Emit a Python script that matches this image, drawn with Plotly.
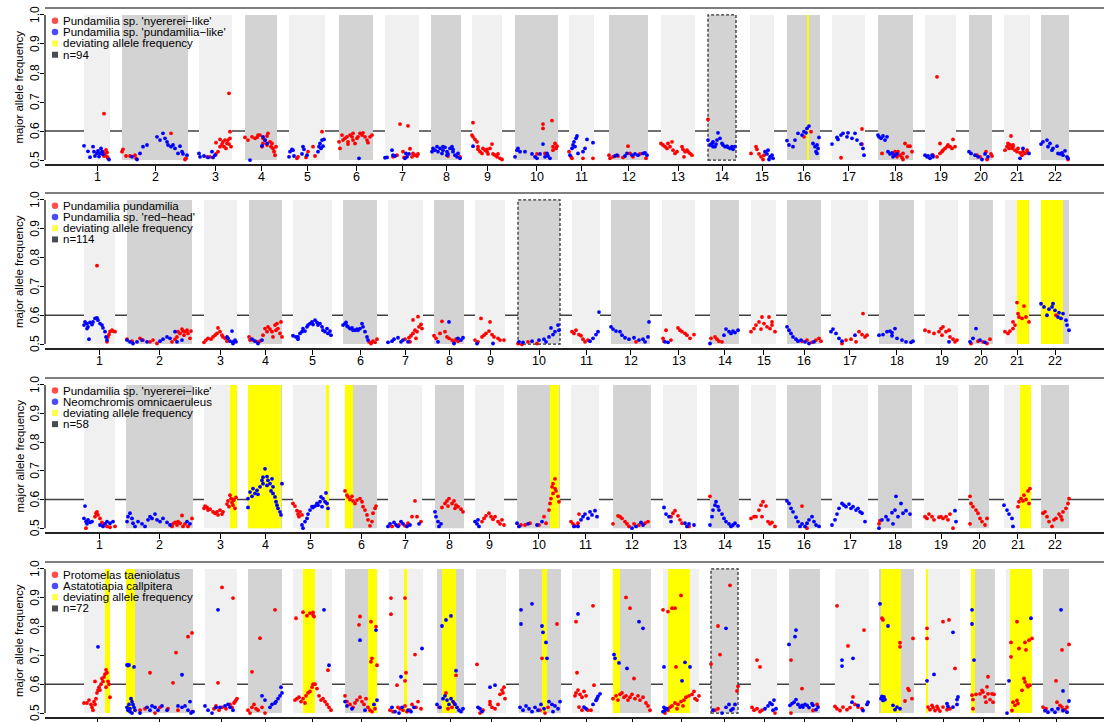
import plotly.graph_objects as go

CHROMOSOMES = [str(i) for i in range(1, 23)]
Y_TICKS = [0.5, 0.6, 0.7, 0.8, 0.9, 1.0]
Y_TICK_TEXT = ["0.5", "0.6", "0.7", "0.8", "0.9", "1.0"]
THRESHOLD = 0.6
Y_TITLE = "major allele frequency"

# ---------------- Panel 1 ----------------
P1_CHR = [(84, 110), (122, 188), (199, 232), (245, 277), (289, 325), (339, 373), (385, 419), (431, 461),
          (472, 502), (515, 558), (569, 594), (609, 648), (661, 695), (708, 736), (750, 774), (787, 820),
          (832, 865), (878, 913), (925, 956), (969, 992), (1004, 1030), (1041, 1069)]
P1_DEV = [(807, 809)]
P1_BOX = [14]
P1_LEGEND = ["Pundamilia sp. 'nyererei\u2212like'", "Pundamilia sp. 'pundamilia\u2212like'",
             "deviating allele frequency", "n=94"]
P1_RED = [(104,.66),(102,.523),(103,.529),(105,.521),(106,.535),(107,.526),(107,.512),(108,.506),(104,.514),(103,.521),
 (122,.529),(123,.537),(126,.514),(130,.514),(135,.517),(136,.506),(171,.592),(185,.502),(186,.506),
 (207,.511),(210,.511),(216,.521),(218,.529),(220,.546),(222,.555),(223,.563),(225,.569),(227,.557),(228,.569),(230,.575),
 (231,.546),(229,.555),(224,.546),(226,.54),(229,.73),(230,.598),(220,.571),(216,.56),
 (245,.578),(248,.569),(252,.58),(255,.575),(257,.578),(260,.586),(263,.575),(265,.569),(267,.583),(268,.592),(270,.563),
 (272,.557),(273,.54),(274,.529),(275,.517),(276,.546),(271,.546),(267,.552),(263,.557),(262,.546),(258,.586),
 (297,.506),(298,.511),(306,.509),(308,.529),(313,.546),(315,.514),(322,.598),
 (339,.563),(340,.54),(342,.586),(343,.569),(345,.575),(347,.58),(348,.563),(350,.586),(352,.58),(353,.569),(355,.557),
 (357,.575),(358,.58),(360,.592),(362,.586),(363,.594),(365,.58),(367,.569),(368,.56),(370,.58),(372,.586),(353,.592),(348,.555),
 (393,.511),(397,.517),(400,.624),(403,.529),(408,.618),(410,.539),(413,.523),(415,.517),(417,.514),(418,.521),(404,.509),(412,.511),
 (448,.514),(460,.511),
 (473,.629),(472,.586),(473,.58),(475,.571),(477,.563),(478,.546),(478,.537),(480,.529),(482,.523),(483,.54),(485,.534),
 (487,.529),(488,.521),(490,.54),(492,.555),(493,.521),(495,.517),(497,.511),(498,.521),(500,.506),(502,.502),(487,.537),
 (543,.624),(543,.609),(552,.636),(545,.523),(553,.546),(555,.557),(557,.548),(556,.54),(553,.534),(537,.521),
 (569,.529),(571,.511),(572,.506),(583,.506),(593,.506),
 (609,.517),(610,.506),(613,.511),(618,.514),(623,.509),(628,.548),(630,.523),(633,.511),(640,.521),(646,.506),
 (661,.557),(663,.552),(665,.546),(667,.54),(668,.557),(670,.546),(672,.563),(673,.534),(675,.523),(677,.529),(682,.546),
 (683,.537),(685,.529),(684,.511),(687,.534),(688,.529),(690,.523),(692,.517),
 (708,.64),
 (751,.523),(756,.546),(757,.537),(759,.521),(761,.511),(763,.502),(764,.517),
 (804,.58),(811,.598),
 (862,.607),(841,.508),(862,.555),
 (882,.523),(893,.521),(895,.529),(897,.511),(898,.529),(900,.517),(902,.509),(903,.523),(905,.557),(907,.511),(908,.548),
 (910,.548),(912,.529),(903,.502),
 (937,.787),(933,.517),(937,.511),(940,.523),(942,.529),(943,.534),(945,.54),(947,.546),(948,.552),(950,.546),(952,.54),
 (953,.571),(955,.546),(940,.557),
 (977,.517),(980,.511),(986,.529),(991,.521),(992,.514),(987,.502),
 (1005,.534),(1007,.546),(1008,.557),(1010,.552),(1011,.583),(1012,.54),(1013,.546),(1015,.534),(1017,.529),(1018,.54),
 (1020,.525),(1022,.517),(1023,.529),(1025,.523),(1027,.534),(1028,.525),(1009,.54),(1013,.552),
 (1068,.502)]
P1_BLUE = [(84,.549),(90,.51),(88,.53),(93,.546),(94,.529),(97,.523),(98,.532),(100,.523),(101,.54),(102,.529),(103,.52),
 (99,.512),(95,.514),(109,.502),
 (132,.511),(137,.502),(140,.523),(143,.546),(147,.552),(157,.58),(160,.569),(163,.592),(165,.575),(167,.563),(168,.552),
 (171,.546),(173,.552),(175,.54),(178,.523),(180,.548),(182,.529),(183,.521),(187,.517),
 (199,.523),(200,.511),(204,.514),(208,.509),(213,.509),(212,.529),(215,.517),
 (250,.5),(263,.58),(265,.569),(267,.557),(262,.549),
 (289,.511),(290,.529),(292,.537),(293,.534),(294,.514),(302,.521),(303,.546),(304,.537),(307,.517),(318,.529),(319,.546),
 (320,.557),(322,.569),(323,.548),(324,.571),(321,.54),
 (359,.506),
 (385,.508),(387,.509),(392,.534),(393,.517),(405,.506),(406,.523),(407,.511),(409,.521),(395,.514),
 (432,.529),(433,.54),(435,.534),(437,.546),(438,.529),(440,.54),(442,.523),(443,.534),(445,.544),(447,.529),(448,.521),
 (450,.54),(452,.546),(453,.529),(455,.517),(457,.511),(458,.523),(460,.506),(453,.537),(447,.517),(443,.546),
 (473,.548),
 (515,.511),(517,.534),(518,.54),(520,.529),(525,.529),(532,.521),(535,.511),(537,.506),(540,.521),(543,.555),(545,.511),
 (547,.523),(548,.514),(550,.506),
 (570,.517),(572,.54),(573,.552),(574,.563),(576,.575),(577,.583),(575,.546),(578,.523),(583,.529),(585,.54),(587,.571),(593,.56),
 (615,.514),(617,.517),(625,.514),(627,.523),(632,.517),(635,.521),(638,.517),(643,.523),(645,.525),(647,.517),
 (708,.569),(710,.552),(712,.557),(713,.563),(715,.546),(717,.569),(718,.594),(720,.575),(722,.557),(723,.552),(725,.546),
 (727,.548),(728,.544),(730,.54),(732,.546),(733,.537),(735,.546),(713,.546),(716,.555),
 (765,.529),(767,.521),(768,.534),(770,.511),(772,.517),(773,.506),(769,.502),
 (787,.567),(789,.552),(793,.546),(795,.569),(798,.592),(802,.586),(804,.598),(806,.594),(807,.609),(809,.617),(813,.557),
 (815,.546),(817,.552),(818,.54),(817,.523),(819,.578),(816,.529),
 (832,.555),(837,.578),(838,.571),(841,.586),(843,.592),(847,.58),(848,.594),(852,.575),(855,.592),(857,.569),(861,.555),
 (863,.54),(864,.517),
 (878,.586),(879,.58),(881,.575),(883,.583),(885,.569),(887,.58),(888,.529),(890,.521),(892,.525),(893,.511),(895,.517),(897,.521),
 (925,.517),(927,.511),(928,.514),(930,.506),(932,.517),(933,.511),
 (969,.529),(971,.523),(975,.517),(978,.511),(982,.502),(985,.521),(988,.511),
 (1020,.506),(1023,.54),(1029,.523),
 (1041,.555),(1043,.563),(1047,.569),(1048,.546),(1050,.557),(1052,.534),(1053,.54),(1057,.548),(1058,.523),(1060,.521),
 (1062,.525),(1063,.517),(1065,.532),(1067,.511),(1068,.506)]

# ---------------- Panel 2 ----------------
P2_CHR = [(84, 115), (127, 192), (204, 237), (249, 282), (293, 332), (343, 377), (388, 423), (434, 464),
          (475, 505), (518, 560), (572, 600), (611, 650), (662, 695), (710, 739), (751, 776), (787, 821),
          (831, 868), (879, 914), (925, 958), (969, 993), (1005, 1029), (1041, 1069)]
P2_DEV = [(1017, 1029), (1041, 1063)]
P2_BOX = [10]
P2_LEGEND = ["Pundamilia pundamilia", "Pundamilia sp. 'red\u2212head'", "deviating allele frequency", "n=114"]
P2_RED = [(97,.772),(107,.508),(108,.525),(110,.543),(112,.548),(113,.545),(115,.543),(109,.533),
 (127,.517),(132,.51),(140,.52),(143,.514),(150,.508),(153,.514),(157,.502),(172,.508),(175,.517),(177,.525),(178,.543),
 (180,.537),(182,.552),(183,.545),(185,.543),(187,.548),(188,.537),(190,.52),(191,.545),(184,.531),
 (204,.506),(206,.514),(208,.52),(211,.517),(213,.525),(215,.531),(217,.537),(218,.556),(220,.543),(222,.531),(223,.525),
 (225,.52),(227,.51),
 (249,.525),(250,.514),(253,.514),(257,.508),(260,.51),(263,.531),(265,.554),(267,.543),(268,.56),(270,.552),(272,.543),
 (273,.525),(275,.566),(277,.571),(278,.554),(280,.537),(281,.577),(282,.525),(276,.548),
 (369,.508),(371,.502),(373,.51),(375,.506),(377,.517),
 (405,.517),(409,.522),(411,.529),(413,.537),(415,.548),(417,.543),(419,.56),(421,.568),(422,.554),(418,.595),(413,.584),
 (416,.52),(410,.508),
 (434,.529),(436,.52),(442,.579),(445,.543),(447,.525),(449,.52),(452,.514),(454,.508),(456,.517),(458,.51),(440,.537),
 (475,.514),(478,.508),(481,.589),(482,.525),(484,.531),(486,.537),(489,.545),(490,.577),(492,.533),(494,.525),(498,.52),
 (500,.514),(504,.514),
 (518,.502),(522,.499),(528,.508),(537,.502),
 (572,.543),(574,.537),(576,.548),(579,.533),(581,.529),(583,.517),(585,.508),(588,.514),
 (636,.508),
 (663,.52),(664,.51),(666,.548),(671,.514),(678,.556),(680,.548),(682,.543),(685,.537),(687,.531),(690,.52),(694,.533),
 (711,.52),(715,.525),(717,.517),(719,.51),(722,.508),
 (751,.543),(754,.554),(756,.566),(759,.577),(762,.594),(764,.571),(767,.56),(769,.594),(770,.554),(772,.566),(775,.543),
 (761,.552),(772,.577),
 (802,.51),(807,.514),(812,.506),(816,.514),(819,.52),(821,.51),
 (842,.502),(846,.514),(851,.517),(856,.508),(859,.543),(862,.533),(865,.525),(867,.531),(863,.606),
 (925,.548),(929,.543),(934,.537),(939,.543),(941,.554),(943,.56),(946,.543),(949,.548),(950,.525),(953,.517),(955,.508),
 (957,.514),(942,.531),
 (971,.502),(978,.51),(983,.508),(987,.502),(990,.517),
 (1005,.543),(1008,.537),(1010,.545),(1013,.577),(1015,.566),(1017,.644),(1019,.594),(1022,.589),(1024,.632),(1026,.594),
 (1029,.577),(1013,.554),(1018,.606),
 (1056,.6)]
P2_BLUE = [(84,.566),(85,.577),(87,.571),(88,.56),(90,.575),(92,.568),(93,.577),(95,.589),(97,.591),(98,.583),(100,.571),
 (102,.566),(103,.556),(105,.543),(106,.525),(107,.514),(89,.517),(87,.554),
 (127,.514),(130,.508),(133,.502),(137,.508),(142,.514),(147,.508),(160,.51),(163,.517),(167,.525),(170,.52),(175,.543),
 (177,.508),(182,.514),
 (227,.525),(228,.52),(230,.51),(232,.545),(233,.508),(235,.514),(236,.508),(233,.502),
 (252,.517),(255,.51),(258,.502),(262,.514),
 (293,.529),(296,.525),(298,.517),(300,.537),(302,.543),(303,.554),(305,.545),(307,.56),(308,.566),(310,.571),(312,.577),
 (313,.568),(315,.583),(317,.575),(318,.566),(320,.571),(322,.56),(323,.548),(325,.543),(327,.554),(328,.537),(330,.545),
 (331,.531),(298,.525),
 (343,.566),(345,.571),(347,.563),(348,.56),(350,.554),(352,.556),(353,.548),(355,.548),(357,.552),(358,.548),(360,.554),
 (362,.571),(363,.56),(365,.543),(367,.525),(368,.514),(346,.575),
 (388,.506),(392,.51),(394,.517),(398,.522),(401,.508),(403,.514),(408,.508),
 (438,.508),(449,.577),(454,.502),(458,.52),(461,.514),(463,.522),
 (477,.502),(493,.502),
 (519,.508),(523,.506),(532,.51),(539,.514),(544,.517),(549,.525),(551,.556),(553,.533),(555,.543),(558,.566),(559,.548),(546,.508),
 (590,.51),(593,.52),(596,.533),(598,.543),(599,.611),
 (611,.56),(613,.552),(616,.545),(620,.543),(622,.531),(625,.522),(629,.517),(634,.522),(639,.514),(643,.517),(645,.508),
 (648,.525),(649,.577),
 (665,.508),(668,.506),
 (710,.502),(724,.531),(726,.552),(729,.543),(731,.537),(733,.545),(735,.54),(738,.548),
 (787,.56),(789,.548),(791,.537),(793,.525),(796,.517),(798,.51),(801,.514),(805,.508),(809,.502),(814,.508),
 (831,.543),(833,.552),(836,.537),(839,.52),(842,.51),(855,.531),
 (879,.531),(883,.533),(887,.543),(890,.545),(892,.54),(895,.554),(897,.52),(902,.514),(906,.508),(911,.506),(913,.51),(892,.529),
 (949,.508),
 (970,.508),(973,.52),(976,.554),(980,.514),(985,.506),
 (1041,.64),(1044,.629),(1047,.6),(1049,.621),(1052,.629),(1053,.64),(1055,.617),(1058,.594),(1061,.589),(1063,.606),
 (1066,.583),(1067,.566),(1069,.548),(1059,.609)]

# ---------------- Panel 3 ----------------
P3_CHR = [(84, 115), (126, 193), (204, 237), (248, 282), (293, 328), (345, 377), (388, 422), (435, 464),
          (475, 504), (517, 560), (571, 599), (613, 651), (663, 697), (710, 739), (751, 776), (787, 821),
          (832, 868), (878, 912), (924, 958), (969, 989), (1004, 1031), (1041, 1069)]
P3_DEV = [(230, 237), (248, 281), (326, 329), (345, 353), (550, 559), (1020, 1031)]
P3_BOX = []
P3_LEGEND = ["Pundamilia sp. 'nyererei\u2212like'", "Neomchromis omnicaeruleus", "deviating allele frequency", "n=58"]
P3_RED = [(95,.54),(96,.552),(97,.557),(98,.546),(100,.534),(102,.52),(103,.515),(107,.506),(110,.503),(115,.506),(86,.5),
 (172,.506),(173,.515),(175,.52),(177,.511),(178,.523),(180,.517),(182,.544),(183,.506),(185,.515),(188,.506),(192,.534),
 (204,.569),(205,.577),(207,.572),(208,.563),(210,.566),(213,.557),(215,.552),(217,.557),(218,.546),(220,.563),(222,.549),
 (223,.557),(227,.584),(228,.595),(230,.615),(231,.603),(232,.589),(233,.58),(234,.598),(235,.569),(236,.607),(229,.575),(233,.6),
 (293,.586),(295,.577),(297,.561),(298,.549),(300,.557),(302,.546),(299,.54),
 (345,.63),(347,.615),(348,.609),(350,.6),(352,.611),(353,.595),(355,.586),(357,.598),(360,.603),(362,.592),(363,.575),
 (365,.563),(367,.546),(368,.529),(370,.508),(372,.523),(373,.552),(375,.569),(376,.577),
 (392,.506),(399,.511),(405,.508),(412,.54),(415,.595),(417,.54),(421,.523),(408,.517),
 (442,.572),(445,.586),(447,.595),(449,.603),(452,.586),(454,.595),(456,.58),(458,.575),(461,.566),(463,.557),(448,.577),(455,.569),
 (482,.523),(484,.534),(486,.543),(489,.552),(491,.54),(493,.531),(495,.54),(498,.523),(500,.515),(502,.529),(504,.511),
 (521,.511),(525,.511),(530,.517),(539,.511),(544,.54),(546,.517),(549,.563),(551,.603),(552,.644),(553,.655),(555,.672),
 (555,.638),(556,.63),(558,.611),(559,.592),(553,.621),(550,.586),
 (571,.523),(573,.515),(575,.508),(578,.517),(579,.549),
 (613,.515),(618,.543),(620,.54),(622,.534),(625,.523),(627,.515),(629,.506),(634,.515),(639,.511),(645,.517),(648,.523),
 (671,.54),(673,.552),(675,.561),(678,.543),(680,.529),(682,.517),(689,.506),
 (710,.611),
 (751,.534),(754,.54),(756,.54),(759,.563),(761,.58),(763,.592),(766,.577),(768,.523),(770,.515),(772,.52),(775,.506),(762,.54),
 (802,.577),(807,.5),
 (879,.515),(880,.526),
 (925,.54),(927,.534),(929,.549),(932,.54),(934,.529),(939,.538),(941,.54),(943,.534),(946,.54),(948,.529),(950,.549),(953,.5),
 (970,.611),(971,.586),(973,.575),(976,.563),(978,.552),(980,.534),(982,.523),(985,.511),(987,.534),(970,.515),
 (1018,.575),(1021,.603),(1023,.595),(1024,.615),(1026,.6),(1028,.63),(1030,.638),(1029,.586),(1019,.592),
 (1043,.552),(1045,.557),(1047,.54),(1049,.523),(1052,.506),(1054,.529),(1056,.534),(1059,.549),(1061,.54),(1063,.557),
 (1066,.569),(1068,.586),(1069,.603),(1062,.529)]
P3_BLUE = [(85,.577),(84,.534),(86,.523),(87,.515),(88,.529),(90,.52),(92,.523),(100,.511),(103,.506),(105,.515),(107,.523),
 (110,.517),(113,.523),
 (127,.523),(128,.54),(130,.552),(132,.534),(133,.517),(135,.506),(138,.523),(142,.515),(145,.506),(148,.529),(150,.54),
 (152,.534),(155,.549),(157,.529),(160,.523),(163,.534),(167,.52),(170,.511),(187,.523),(190,.515),
 (248,.572),(248,.603),(250,.626),(252,.611),(253,.638),(255,.621),(257,.632),(258,.618),(260,.644),(262,.667),(263,.678),
 (265,.707),(267,.68),(268,.667),(270,.655),(272,.672),(273,.644),(273,.621),(275,.609),(276,.592),(277,.58),(278,.569),
 (280,.557),(281,.546),(282,.655),(263,.655),(267,.649),(271,.63),
 (302,.511),(303,.5),(305,.523),(307,.534),(308,.549),(310,.563),(312,.575),(313,.572),(315,.577),(317,.586),(318,.58),
 (320,.592),(322,.575),(323,.603),(325,.592),(327,.586),(328,.569),(326,.623),(321,.609),
 (388,.506),(390,.515),(394,.52),(396,.511),(398,.506),(401,.523),(403,.515),(407,.506),(410,.511),(419,.515),
 (435,.557),(436,.54),(438,.523),(439,.506),(441,.515),
 (475,.523),(477,.515),(479,.506),(478,.529),
 (517,.517),(519,.506),(528,.515),(537,.511),(542,.523),
 (574,.506),(578,.506),(581,.529),(583,.54),(585,.549),(588,.534),(590,.557),(592,.546),(595,.561),(597,.54),
 (632,.5),(636,.506),(641,.52),(643,.511),
 (664,.572),(666,.549),(669,.54),(671,.523),(685,.517),(687,.506),(689,.515),(694,.511),
 (710,.511),(712,.54),(713,.563),(715,.58),(716,.592),(718,.575),(719,.563),(722,.549),(724,.534),(726,.523),(729,.515),
 (731,.506),(733,.511),(735,.517),(738,.508),
 (787,.595),(789,.586),(791,.569),(793,.557),(796,.538),(798,.523),(800,.506),(802,.515),(805,.506),(807,.517),(809,.529),
 (812,.54),(814,.523),(816,.511),(819,.506),
 (832,.511),(835,.529),(837,.549),(839,.569),(842,.586),(844,.58),(846,.575),(849,.584),(851,.569),(853,.575),(856,.563),
 (858,.569),(860,.557),(862,.552),(865,.523),
 (879,.5),(882,.529),(886,.54),(888,.529),(892,.554),(895,.563),(896,.611),(898,.54),(901,.586),(903,.552),(906,.561),
 (910,.549),(893,.515),
 (955,.561),(956,.523),
 (1004,.58),(1007,.563),(1009,.549),(1012,.534),(1013,.506)]

# ---------------- Panel 4 ----------------
P4_CHR = [(84, 110), (126, 193), (205, 237), (248, 282), (293, 332), (345, 377), (389, 423), (437, 464),
          (476, 506), (519, 561), (572, 600), (613, 651), (663, 699), (711, 738), (751, 777), (789, 820),
          (835, 869), (879, 914), (926, 960), (971, 995), (1006, 1032), (1043, 1069)]
P4_DEV = [(105, 110), (126, 135), (303, 315), (368, 377), (404, 407), (442, 456), (542, 547), (613, 620),
          (668, 690), (881, 901), (926, 928), (971, 975), (1010, 1032)]
P4_BOX = [14]
P4_LEGEND = ["Protomelas taeniolatus", "Astatotiapia callpitera", "deviating allele frequency", "n=72"]
P4_RED = [(84,.535),(87,.535),(89,.545),(91,.53),(92,.52),(93,.51),(94,.54),(95,.53),(96,.55),(97,.57),(98,.58),(99,.59),
 (100,.58),(101,.6),(102,.62),(103,.61),(104,.625),(105,.635),(106,.65),(107,.64),(108,.61),(109,.6),(110,.555),(106,.59),(95,.61),
 (150,.64),(140,.51),(145,.515),(155,.5),(160,.52),(168,.515),(176,.71),(173,.605),(178,.51),(188,.765),(192,.778),(192,.505),
 (222,.936),(233,.899),(218,.605),(214,.515),(216,.525),(219,.51),(222,.52),(226,.515),(230,.53),(232,.52),(234,.535),
 (235,.54),(236,.545),(237,.55),
 (252,.643),(260,.76),(275,.858),(248,.51),(250,.5),(252,.52),(254,.53),(256,.515),(258,.51),(262,.52),(265,.5),
 (296,.829),(303,.85),(307,.838),(310,.847),(313,.84),(314,.835),(313,.849),(295,.545),(297,.55),(299,.555),(301,.54),
 (303,.55),(306,.56),(308,.57),(310,.575),(312,.59),(313,.6),(315,.6),(317,.585),(319,.56),(321,.545),(323,.55),(325,.54),
 (327,.53),(329,.52),(331,.51),(305,.535),(328,.649),
 (359,.806),(360,.835),(371,.817),(372,.69),(376,.8),(377,.666),(371,.678),(345,.56),(347,.54),(350,.53),(353,.52),(355,.535),
 (357,.545),(360,.555),(362,.54),(364,.53),(366,.55),(368,.52),(370,.51),(372,.505),(375,.515),
 (391,.899),(391,.843),(405,.899),(415,.703),(406,.64),(405,.612),(397,.597),(390,.51),(393,.505),(398,.52),(400,.515),
 (403,.51),(405,.525),(407,.505),(410,.51),(412,.53),(416,.52),(418,.54),(421,.515),
 (456,.631),(446,.57),(439,.52),(448,.515),(452,.52),(454,.535),
 (477,.669),(480,.5),(483,.51),(490,.54),(492,.52),(495,.515),(498,.53),(500,.565),(502,.58),(504,.59),(505,.55),(503,.57),(490,.53),
 (542,.69),(557,.809),(540,.51),(545,.5),(548,.52),
 (576,.817),(593,.872),(577,.64),(594,.597),(575,.56),(576,.57),(578,.58),(580,.565),(582,.555),(584,.575),(586,.56),
 (579,.521),(582,.51),(588,.51),(591,.51),
 (626,.901),(630,.864),(634,.62),(613,.55),(616,.56),(618,.545),(620,.565),(622,.57),(624,.555),(626,.56),(628,.545),
 (630,.555),(632,.565),(635,.55),(638,.56),(640,.545),(643,.555),(646,.535),(648,.525),(650,.51),
 (663,.858),(668,.852),(672,.864),(675,.864),(681,.908),(676,.66),(665,.5),(668,.51),(670,.52),(672,.525),(675,.535),
 (678,.53),(681,.54),(684,.545),(686,.555),(689,.56),(692,.565),(695,.55),(697,.545),(699,.56),(694,.575),(677,.515),(683,.525),
 (711,.67),(718,.802),(720,.703),(730,.943),(738,.593),(737,.577),(715,.51),(718,.515),
 (757,.684),(760,.66),(752,.52),(754,.51),(757,.515),(760,.505),(762,.51),(775,.5),
 (791,.684),(802,.585),(791,.5),(813,.509),(817,.53),
 (837,.872),(848,.733),(864,.788),(835,.523),(837,.515),(840,.509),(843,.521),(847,.512),(850,.519),(853,.556),(855,.53),
 (858,.521),(862,.515),
 (882,.829),(883,.823),(900,.744),(900,.73),(913,.759),(908,.585),(909,.579),(912,.55),(905,.542),
 (927,.794),(927,.759),(943,.817),(949,.823),(955,.655),(928,.521),(930,.512),(932,.527),(933,.519),(935,.509),(937,.523),
 (938,.515),(940,.507),(943,.521),(947,.512),(950,.515),
 (988,.626),(972,.562),(973,.547),(973,.515),(976,.565),(980,.567),(982,.579),(983,.573),(985,.556),(987,.591),(988,.567),
 (990,.547),(992,.567),(993,.538),(994,.565),(986,.538),
 (1017,.817),(1011,.745),(1011,.695),(1019,.724),(1025,.745),(1026,.719),(1029,.753),(1032,.759),(1024,.62),(1025,.608),
 (1027,.597),(1028,.591),(1030,.597),(1022,.579),(1013,.538),(1015,.527),(1017,.544),(1012,.509),(1018,.533),
 (1062,.719),(1069,.738),(1056,.612),(1043,.521),(1046,.515),(1057,.538),(1060,.527),(1062,.521),(1065,.512),(1067,.521)]
P4_BLUE = [(98,.73),
 (127,.667),(129,.667),(128,.665),(134,.66),(127,.52),(128,.51),(129,.53),(130,.515),(131,.55),(132,.54),(133,.53),(134,.52),
 (135,.51),(130,.505),(132,.5),(140,.5),(147,.52),(150,.51),(152,.525),(155,.52),(158,.51),(162,.525),(167,.51),(178,.525),
 (182,.52),(185,.525),(188,.51),(190,.54),(191,.5),(193,.505),(182,.633),
 (218,.858),(205,.525),(208,.51),(212,.5),(216,.52),(220,.52),(225,.525),(228,.53),(230,.52),(233,.51),
 (262,.56),(265,.545),(270,.52),(272,.53),(275,.535),(278,.55),(280,.56),(281,.59),(282,.57),(276,.54),
 (324,.858),(329,.666),
 (360,.753),(376,.788),(345,.54),(347,.525),(352,.515),(365,.51),(374,.53),(377,.545),
 (422,.724),(401,.626),(392,.52),(395,.505),(399,.5),(402,.52),(408,.51),(411,.505),(414,.52),
 (442,.802),(446,.823),(451,.837),(456,.647),(437,.53),(440,.52),(443,.55),(445,.56),(447,.545),(449,.53),(451,.55),
 (453,.54),(455,.53),(457,.52),(459,.51),(461,.505),(463,.515),
 (478,.52),(480,.515),(482,.505),(490,.59),(495,.597),
 (521,.858),(521,.809),(532,.879),(542,.802),(543,.78),(546,.745),(547,.69),(520,.52),(523,.51),(526,.525),(529,.515),
 (532,.505),(535,.52),(538,.51),(541,.53),(544,.515),(549,.54),(552,.53),(555,.525),(558,.515),(560,.54),(553,.505),
 (578,.844),(598,.558),(600,.567),(597,.55),(596,.544),(584,.521),(586,.515),(593,.53),
 (614,.703),(615,.69),(619,.674),(627,.655),(639,.817),(643,.794),
 (664,.66),(685,.676),(682,.612),(690,.66),(663,.505),(664,.52),(665,.51),(667,.515),
 (726,.794),(713,.51),(722,.5),(726,.52),(729,.53),(731,.51),(733,.515),(735,.53),
 (765,.515),(768,.525),(770,.535),(772,.53),(774,.545),(776,.515),(773,.51),
 (789,.738),(795,.765),(796,.788),(790,.527),(792,.533),(794,.538),(796,.547),(798,.53),(800,.521),(802,.527),(803,.521),
 (805,.53),(807,.527),(809,.519),(812,.533),(813,.527),(816,.512),(818,.521),
 (842,.684),(842,.663),(853,.69),(852,.538),(858,.527),(863,.509),(867,.53),(868,.538),
 (880,.879),(888,.802),(881,.55),(882,.558),(883,.544),(884,.556),(885,.547),(893,.527),(897,.521),(900,.515),(895,.512),
 (927,.612),(934,.634),(953,.78),(947,.533),(948,.523),(953,.521),(957,.547),(958,.556),(957,.53),
 (972,.858),(972,.809),(974,.684),
 (1031,.829),(1009,.612),(1007,.5),
 (1061,.858),(1063,.577),(1045,.509),(1048,.503),(1052,.512),(1055,.503),(1058,.515),(1063,.509),(1067,.503),(1069,.542)]

PANELS = [
    (P1_CHR, P1_DEV, P1_BOX, P1_RED, P1_BLUE, P1_LEGEND),
    (P2_CHR, P2_DEV, P2_BOX, P2_RED, P2_BLUE, P2_LEGEND),
    (P3_CHR, P3_DEV, P3_BOX, P3_RED, P3_BLUE, P3_LEGEND),
    (P4_CHR, P4_DEV, P4_BOX, P4_RED, P4_BLUE, P4_LEGEND),
]

# ---------------- layout constants ----------------
W, H = 1104, 722
LEFT = 45
PANEL_PX = [(8, 165), (193, 349), (378, 533), (562, 718)]
X_RANGE = [LEFT, W]
Y_RANGE = [0.483, 1.024]
LIGHT = "#F0F0F0"
DARK = "#D3D3D3"
YELLOW = "#FFFF00"
RED = "#FF0000"
BLUE = "#0000FF"
FONT = "Liberation Sans, Arial, Helvetica, sans-serif"
LEG_Y = [0.98, 0.941, 0.902, 0.863]

fig = go.Figure()
shapes = []
annotations = []
layout = dict(width=W, height=H, margin=dict(l=LEFT, r=0, t=0, b=0),
              plot_bgcolor="white", paper_bgcolor="white", showlegend=False,
              font=dict(family=FONT, color="black", size=12))

for i, (chrs, dev, box, red, blue, legend) in enumerate(PANELS, start=1):
    xa = "x" if i == 1 else f"x{i}"
    ya = "y" if i == 1 else f"y{i}"
    top, bot = PANEL_PX[i - 1]
    centers = [(a + b) / 2 for a, b in chrs]
    layout[f"xaxis{'' if i == 1 else i}"] = dict(
        domain=[0, 1], range=X_RANGE, anchor=ya, showgrid=False, zeroline=False, showline=False,
        tickvals=centers, ticks="outside", ticklen=5, tickwidth=1, tickcolor="black",
        showticklabels=False, fixedrange=True)
    layout[f"yaxis{'' if i == 1 else i}"] = dict(
        domain=[1 - bot / H, 1 - top / H], range=Y_RANGE, anchor=xa, showgrid=False, zeroline=False,
        showline=False, tickvals=Y_TICKS, ticks="outside", ticklen=4, tickwidth=1,
        tickcolor="black", showticklabels=False, fixedrange=True)

    # x tick labels (chromosome names); the bottom panel's labels fall outside the picture
    if bot + 18 < H:
        for c, name in zip(centers, CHROMOSOMES):
            annotations.append(dict(text=name, xref=xa, yref=f"{ya} domain", x=c, y=0, xanchor="center",
                                    yanchor="top", yshift=-4, showarrow=False, borderpad=0,
                                    font=dict(size=12.5, family=FONT, color="black")))
    # y tick labels (rotated, as in the original)
    for v, t in zip(Y_TICKS, Y_TICK_TEXT):
        annotations.append(dict(text=t, xref="paper", yref=ya, x=(35 - LEFT) / (W - LEFT), y=v,
                                xanchor="center", yanchor="middle", textangle=-90, showarrow=False,
                                borderpad=0, font=dict(size=12, family=FONT, color="black")))

    # chromosome background bands
    for k, (a, b) in enumerate(chrs):
        shapes.append(dict(type="rect", xref=xa, yref=ya, x0=a, x1=b, y0=0.5, y1=1.0,
                           fillcolor=LIGHT if k % 2 == 0 else DARK, line=dict(width=0), layer="below"))
    # deviating regions
    for a, b in dev:
        shapes.append(dict(type="rect", xref=xa, yref=ya, x0=a, x1=b, y0=0.5, y1=1.0,
                           fillcolor=YELLOW, line=dict(width=0), layer="below"))
    # dashed boxes
    for c in box:
        a, b = chrs[c - 1]
        shapes.append(dict(type="rect", xref=xa, yref=ya, x0=a, x1=b, y0=0.5, y1=1.0,
                           fillcolor="rgba(0,0,0,0)", line=dict(width=1.3, color="#333333", dash="3px,2px"),
                           layer="below"))
    # threshold line
    shapes.append(dict(type="line", xref=f"{xa} domain", yref=ya, x0=0, x1=1, y0=THRESHOLD, y1=THRESHOLD,
                       line=dict(width=1.6, color="#404040"), layer="below"))
    # frame: top line, bottom axis line, left axis line
    shapes.append(dict(type="line", xref=f"{xa} domain", yref=f"{ya} domain", x0=0, x1=1, y0=1, y1=1,
                       line=dict(width=1.6, color="#555555")))
    shapes.append(dict(type="line", xref=f"{xa} domain", yref=f"{ya} domain", x0=0, x1=1, y0=0, y1=0,
                       line=dict(width=1.8, color="#222222")))
    shapes.append(dict(type="line", xref=f"{xa} domain", yref=ya, x0=0, x1=0, y0=0.5, y1=1.0,
                       line=dict(width=1.2, color="black")))

    # data points
    fig.add_trace(go.Scatter(x=[p[0] for p in red], y=[p[1] for p in red], mode="markers",
                             marker=dict(color=RED, size=3.8, line=dict(width=0)), xaxis=xa, yaxis=ya,
                             hoverinfo="skip"))
    fig.add_trace(go.Scatter(x=[p[0] for p in blue], y=[p[1] for p in blue], mode="markers",
                             marker=dict(color=BLUE, size=3.8, line=dict(width=0)), xaxis=xa, yaxis=ya,
                             hoverinfo="skip"))

    # legend
    fig.add_trace(go.Scatter(x=[55, 55, 55, 55], y=LEG_Y, mode="markers", xaxis=xa, yaxis=ya,
                             marker=dict(color=[RED, BLUE, YELLOW, "black"],
                                         symbol=["circle", "circle", "square", "square"], size=[6.5, 6.5, 6, 6],
                                         line=dict(width=0)), hoverinfo="skip", cliponaxis=False))
    for txt, yy in zip(legend, LEG_Y):
        annotations.append(dict(text=txt, xref=xa, yref=ya, x=62, y=yy, xanchor="left", yanchor="middle",
                                showarrow=False, borderpad=0,
                                font=dict(size=11.5, family=FONT, color="black")))
    # y title
    annotations.append(dict(text=Y_TITLE, xref="paper", yref=ya, x=(19 - LEFT) / (W - LEFT), y=0.75,
                            xanchor="center", yanchor="middle", textangle=-90, showarrow=False,
                            font=dict(size=11.5, family=FONT, color="black")))

layout["shapes"] = shapes
layout["annotations"] = annotations
fig.update_layout(**layout)
fig.write_html("out.html", config={"displayModeBar": False},
               post_script="document.body.style.margin='0';document.body.style.overflow='hidden';")
